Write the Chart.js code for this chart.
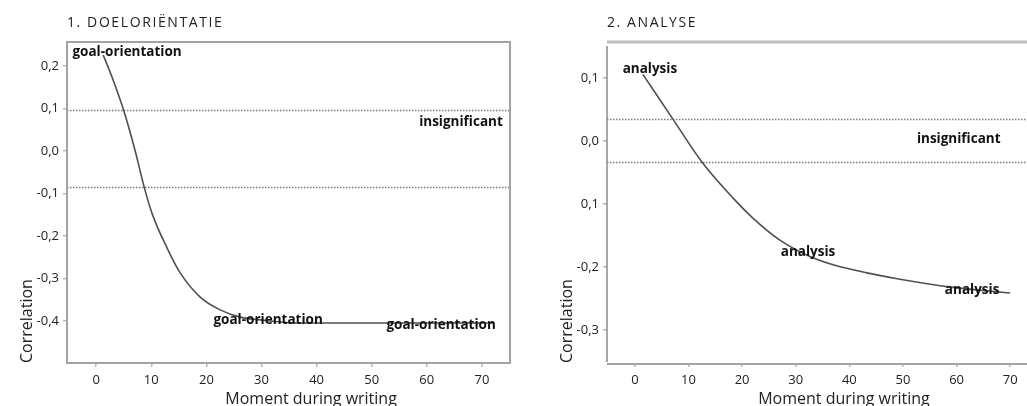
<!DOCTYPE html>
<html><head><meta charset="utf-8">
<script src="https://cdn.jsdelivr.net/npm/chart.js@4"></script>
<style>
html,body{margin:0;padding:0;background:#fff;overflow:hidden;width:1027px;height:406px;}
#c1{position:absolute;left:0;top:0;}
#c2{position:absolute;left:520px;top:0;}
</style></head><body>
<canvas id="c1" width="520" height="420"></canvas>
<canvas id="c2" width="530" height="420"></canvas>
<script>
// ---- data ----
const panelTitles = ['1. DOELORIËNTATIE', '2. ANALYSE'];
const xAxisTitle = 'Moment during writing';
const yAxisTitle = 'Correlation';
const momentTicks = [0, 10, 20, 30, 40, 50, 60, 70];
const momentTickLabels = ['0', '10', '20', '30', '40', '50', '60', '70'];

const goalMoment = [1.27, 2.9, 5.08, 7.08, 8.71, 10.16, 12.89, 15.25, 18.87, 22.5, 26.13, 30.13, 37, 50, 72];
const goalCorr = [0.226, 0.173, 0.092, 0.0, -0.085, -0.148, -0.229, -0.287, -0.344, -0.374, -0.391, -0.398, -0.405, -0.405, -0.405];
const goalYTicks = [0.2, 0.1, 0, -0.1, -0.2, -0.3, -0.4];
const goalYTickLabels = ['0,2', '0,1', '0,0', '-0,1', '-0,2', '-0,3', '-0,4'];
const goalThresholds = [0.0965, -0.085];
const goalLabelText = ['goal-orientation', 'goal-orientation', 'goal-orientation', 'insignificant'];
const goalLabelX = [5.6, 31.2, 62.6, 66.2];
const goalLabelY = [0.233, -0.398, -0.409, 0.068];

const anaMoment = [1.49, 7.09, 12.5, 18.28, 22.01, 27.05, 32.65, 37.31, 43.28, 49.44, 59.33, 70.0];
const anaCorr = [0.106, 0.035, -0.033, -0.090, -0.122, -0.157, -0.183, -0.197, -0.209, -0.219, -0.232, -0.241];
const anaYTicks = [0.1, 0, -0.1, -0.2, -0.3];
const anaYTickLabels = ['0,1', '0,0', '0,1', '-0,2', '-0,3'];
const anaThresholds = [0.035, -0.033];
const anaLabelText = ['analysis', 'analysis', 'analysis', 'insignificant'];
const anaLabelX = [2.8, 32.3, 62.9, 60.4];
const anaLabelY = [0.114, -0.176, -0.237, 0.003];

// ---- styling / layout ----
const FONT = "'Open Sans', 'DejaVu Sans', sans-serif";
Chart.defaults.font.family = FONT;
Chart.defaults.color = '#222';

const decorPlugin = {
  id: 'decor',
  beforeDatasetsDraw(chart, args, o) {
    const {ctx, chartArea: a, scales: {y}} = chart;
    ctx.save();
    ctx.strokeStyle = '#7a7a7a';
    ctx.lineWidth = 1.5;
    ctx.setLineDash([1.5, 1.5]);
    o.thresholds.forEach(t => {
      const py = Math.round(y.getPixelForValue(t)) + 0.5;
      ctx.beginPath(); ctx.moveTo(a.left, py); ctx.lineTo(a.right, py); ctx.stroke();
    });
    ctx.restore();
  },
  afterDatasetsDraw(chart, args, o) {
    const {ctx, scales: {x, y}} = chart;
    ctx.save();
    ctx.font = "bold 13.5px " + FONT;
    ctx.fillStyle = '#111';
    ctx.textAlign = 'center';
    ctx.textBaseline = 'middle';
    o.labelText.forEach((t, i) => {
      ctx.fillText(t, x.getPixelForValue(o.labelX[i]), y.getPixelForValue(o.labelY[i]));
    });
    ctx.restore();
  },
  afterDraw(chart, args, o) {
    const {ctx, chartArea: a, scales: {x}} = chart;
    ctx.save();
    if (o.frame === 'box') {
      ctx.strokeStyle = '#a3a3a3';
      ctx.lineWidth = 2;
      ctx.strokeRect(a.left, a.top, a.right - a.left, a.bottom - a.top);
    } else {
      ctx.strokeStyle = '#bdbdbd';
      ctx.lineWidth = 3;
      ctx.beginPath(); ctx.moveTo(a.left, a.top - 4); ctx.lineTo(chart.width, a.top - 4); ctx.stroke();
      ctx.strokeStyle = '#8a8a8a';
      ctx.lineWidth = 1.5;
      ctx.beginPath(); ctx.moveTo(a.left, a.top); ctx.lineTo(a.left, a.bottom - 1); ctx.stroke();
      ctx.strokeStyle = '#a3a3a3';
      ctx.lineWidth = 2;
      ctx.beginPath(); ctx.moveTo(a.left, a.bottom + 1); ctx.lineTo(chart.width, a.bottom + 1); ctx.stroke();
    }
    ctx.fillStyle = '#222';
    ctx.font = "14px " + FONT;
    ctx.letterSpacing = '1.6px';
    ctx.textAlign = 'left';
    ctx.textBaseline = 'alphabetic';
    ctx.fillText(o.title, a.left, 27);
    ctx.letterSpacing = '0px';
    ctx.font = "16px " + FONT;
    ctx.textAlign = 'center';
    ctx.fillText(xAxisTitle, x.getPixelForValue(39), 404);
    ctx.restore();
  }
};

function makeChart(id, cfg) {
  const labelFor = (arrV, arrL) => function (value) {
    const i = arrV.findIndex(v => Math.abs(v - value) < 1e-6);
    return i >= 0 ? arrL[i] : '';
  };
  return new Chart(document.getElementById(id), {
    type: 'line',
    data: {
      datasets: [{
        data: cfg.xs.map((v, i) => ({x: v, y: cfg.ys[i]})),
        borderColor: '#505050',
        borderWidth: 1.6,
        pointRadius: 0,
        cubicInterpolationMode: 'monotone',
        fill: false
      }]
    },
    options: {
      responsive: false,
      animation: false,
      events: [],
      layout: {padding: {top: cfg.top, left: 0, right: cfg.right, bottom: 0}},
      plugins: {
        legend: {display: false},
        tooltip: {enabled: false},
        decor: {thresholds: cfg.thresholds, labelText: cfg.labelText, labelX: cfg.labelX, labelY: cfg.labelY, frame: cfg.frame, title: cfg.title}
      },
      scales: {
        x: {
          type: 'linear',
          min: cfg.xmin, max: cfg.xmax,
          afterBuildTicks: s => { s.ticks = momentTicks.map(v => ({value: v})); },
          afterFit: s => { s.height = 420 - cfg.bottomPx; },
          border: {display: false},
          grid: {drawOnChartArea: false, drawTicks: true, tickLength: 4, color: '#b5b5b5', lineWidth: 1.5},
          ticks: {padding: 5, font: {size: 13}, color: '#222', maxRotation: 0, autoSkip: false,
                  callback: labelFor(momentTicks, momentTickLabels)}
        },
        y: {
          type: 'linear',
          min: cfg.ymin, max: cfg.ymax,
          afterBuildTicks: s => { s.ticks = cfg.yTicks.map(v => ({value: v})); },
          afterFit: s => { s.width = cfg.leftPx; },
          border: {display: false},
          grid: {drawOnChartArea: false, drawTicks: true, tickLength: 4, color: '#b5b5b5', lineWidth: 1.5},
          ticks: {padding: 4, font: {size: 13}, color: '#222', autoSkip: false,
                  callback: labelFor(cfg.yTicks, cfg.yTickLabels)},
          title: {display: true, text: yAxisTitle, align: 'start', font: {size: 16}, color: '#222',
                  padding: {top: cfg.yTitlePad, bottom: 0}}
        }
      }
    },
    plugins: [decorPlugin]
  });
}

makeChart('c1', {
  xs: goalMoment, ys: goalCorr, thresholds: goalThresholds,
  labelText: goalLabelText, labelX: goalLabelX, labelY: goalLabelY,
  yTicks: goalYTicks, yTickLabels: goalYTickLabels,
  xmin: -5.3, xmax: 75.1, ymin: -0.499, ymax: 0.2565,
  top: 42, right: 10, leftPx: 67, bottomPx: 363, yTitlePad: 18,
  frame: 'box', title: panelTitles[0]
});

makeChart('c2', {
  xs: anaMoment, ys: anaCorr, thresholds: anaThresholds,
  labelText: anaLabelText, labelX: anaLabelX, labelY: anaLabelY,
  yTicks: anaYTicks, yTickLabels: anaYTickLabels,
  xmin: -5.2, xmax: 75, ymin: -0.352, ymax: 0.151,
  top: 46, right: 13, leftPx: 87, bottomPx: 363, yTitlePad: 38,
  frame: 'axes', title: panelTitles[1]
});
</script>
</body></html>
